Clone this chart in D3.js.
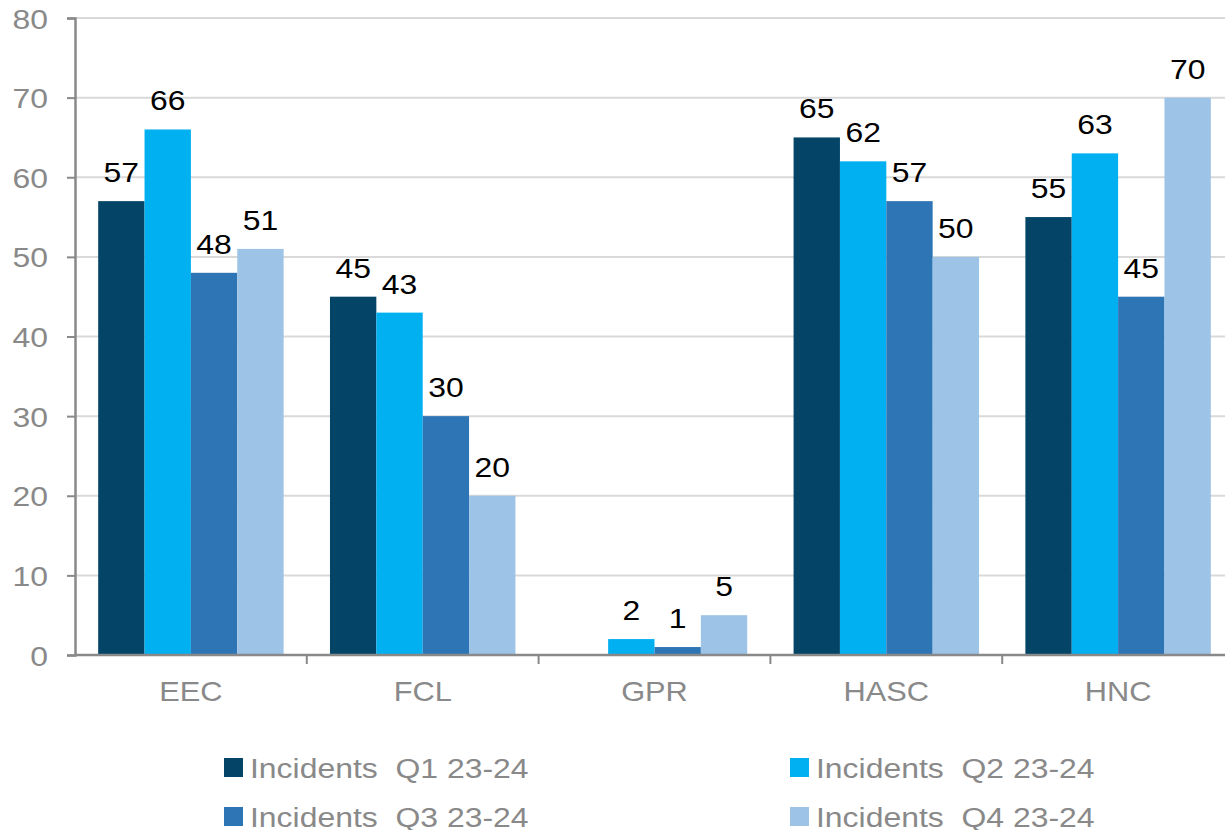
<!DOCTYPE html>
<html><head><meta charset="utf-8">
<script src="https://cdn.jsdelivr.net/npm/d3@7"></script>
<style>body{margin:0;background:#fff}svg{display:block;font-family:"Liberation Sans",Arial,sans-serif}</style>
</head><body><svg id="c" width="1225" height="830"></svg>
<script>
const categories = ["EEC","FCL","GPR","HASC","HNC"];
const seriesNames = ["Incidents  Q1 23-24","Incidents  Q2 23-24","Incidents  Q3 23-24","Incidents  Q4 23-24"];
const q1 = [57,45,0,65,55];
const q2 = [66,43,2,62,63];
const q3 = [48,30,1,57,45];
const q4 = [51,20,5,50,70];
const yTicks = [0,10,20,30,40,50,60,70,80];
const colors = ["#044466","#00b0f0","#2e75b6","#9dc3e6"];
const series = [q1,q2,q3,q4];

(function(){
const SX = 1.14; // horizontal text stretch seen in the reference
const svg = d3.select("#c");
const mLeft = 75, mRight = 1234, mTop = 18, mBottom = 655;
const x = d3.scaleBand().domain(categories).range([mLeft,mRight]).paddingInner(0).paddingOuter(0);
const xi = d3.scaleBand().domain(d3.range(4)).range([0,x.bandwidth()]).paddingInner(0).paddingOuter(0.5);
const y = d3.scaleLinear().domain([0,80]).range([mBottom,mTop]);

function stretchText(sel, px, py){
  sel.attr("transform", `translate(${px},${py}) scale(${SX},1)`).attr("x",0).attr("y",0);
}

// gridlines
svg.append("g").selectAll("line").data(yTicks.filter(d=>d>0)).join("line")
  .attr("x1",mLeft).attr("x2",1225).attr("y1",d=>y(d)).attr("y2",d=>y(d))
  .attr("stroke","#d9d9d9").attr("stroke-width",2);

// bars
const g = svg.append("g");
categories.forEach((c,ci)=>{
  series.forEach((s,si)=>{
    const v = s[ci];
    if (v>0) {
      g.append("rect").attr("x",x(c)+xi(si)).attr("width",xi.bandwidth())
        .attr("y",y(v)).attr("height",y(0)-y(v)).attr("fill",colors[si]);
      const t = g.append("text").attr("text-anchor","middle").attr("font-size",28).attr("fill","#000").text(v);
      stretchText(t, x(c)+xi(si)+xi.bandwidth()/2, y(v)-19);
    }
  });
});

// y axis
const ya = svg.append("g").attr("transform",`translate(${mLeft},0)`)
  .call(d3.axisLeft(y).tickValues(yTicks).tickSize(8).tickPadding(19));
ya.select(".domain").attr("stroke","#898989").attr("stroke-width",2.5);
ya.selectAll(".tick line").attr("stroke","#898989").attr("stroke-width",2);
ya.selectAll(".tick text").attr("font-size",28).attr("fill","#898989")
  .attr("font-family","Liberation Sans, Arial, sans-serif").attr("dy",null)
  .each(function(){ stretchText(d3.select(this), -27, 10); });

// x axis
const xa = svg.append("g").attr("transform",`translate(0,${mBottom})`)
  .call(d3.axisBottom(x).tickSize(0).tickPadding(28));
xa.select(".domain").remove();
svg.append("line").attr("x1",mLeft).attr("x2",1225).attr("y1",mBottom).attr("y2",mBottom)
  .attr("stroke","#898989").attr("stroke-width",2.5);
svg.append("g").selectAll("line").data(categories.slice(1)).join("line")
  .attr("x1",d=>x(d)).attr("x2",d=>x(d)).attr("y1",mBottom).attr("y2",mBottom+9)
  .attr("stroke","#898989").attr("stroke-width",2);
xa.selectAll(".tick text").attr("font-size",27).attr("fill","#898989")
  .attr("font-family","Liberation Sans, Arial, sans-serif").attr("dy",null)
  .each(function(){ stretchText(d3.select(this), 0, 46); });

// legend
const legPos = [[224,758],[790,758],[224,807],[790,807]];
const lg = svg.append("g");
seriesNames.forEach((n,i)=>{
  lg.append("rect").attr("x",legPos[i][0]).attr("y",legPos[i][1]).attr("width",19).attr("height",19).attr("fill",colors[i]);
  const t = lg.append("text").attr("font-size",28).attr("fill","#898989").style("white-space","pre").text(n);
  stretchText(t, legPos[i][0]+26, legPos[i][1]+20);
});
})();
</script></body></html>
